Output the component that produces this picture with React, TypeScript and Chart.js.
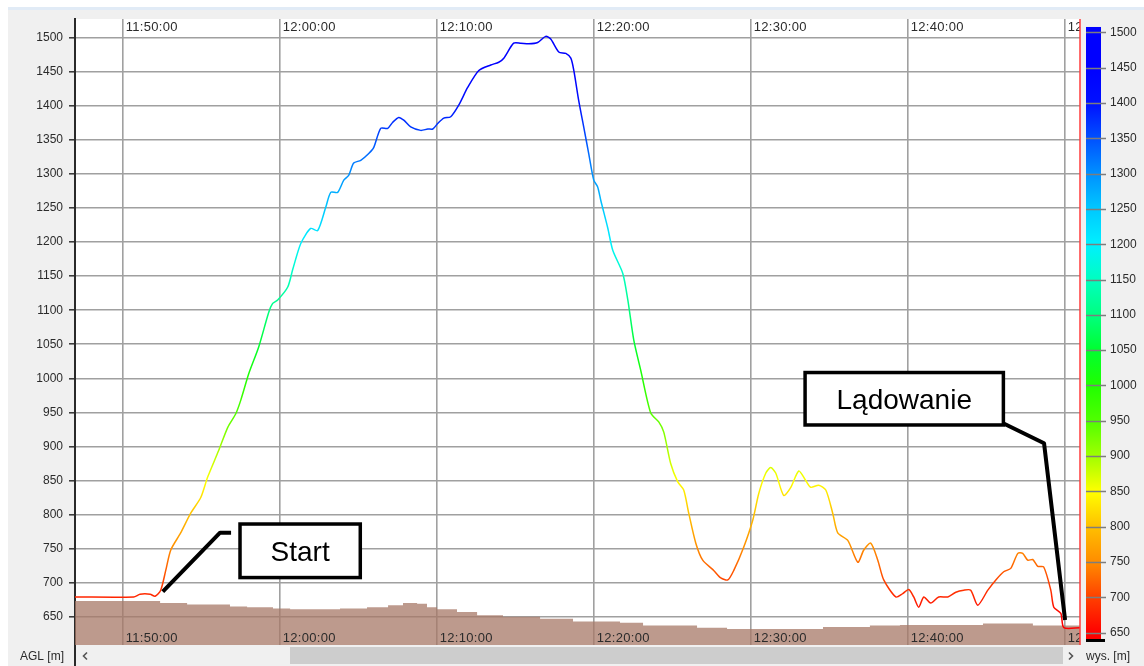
import React, { useEffect, useRef } from "react";
import { Chart, registerables } from "chart.js";

Chart.register(...registerables);

// Time values are minutes after 11:50:00
const flightMinutes = [
  -3.04, 0.7, 1.1, 1.75, 2.06, 2.42, 2.74, 3.06, 3.69, 4.33,
  4.97, 5.41, 6.11, 6.69, 7.2, 7.52, 8.03, 8.66, 9.3, 9.55,
  9.87, 10.51, 10.83, 11.34, 11.97, 12.42, 12.93, 13.25, 13.69, 14.08,
  14.39, 14.71, 15.16, 15.67, 15.99, 16.43, 16.88, 17.2, 17.58, 17.9,
  18.34, 18.98, 19.43, 19.75, 20.06, 20.45, 20.89, 21.4, 21.97, 22.68,
  23.44, 23.95, 24.27, 24.9, 25.35, 25.86, 26.43, 26.94, 27.26, 27.77,
  28.22, 28.54, 28.73, 29.04, 29.36, 29.68, 30.0, 30.25, 30.45, 30.9,
  31.21, 31.85, 32.17, 32.55, 32.99, 33.63, 34.14, 34.46, 34.9, 35.35,
  35.73, 36.05, 36.5, 36.94, 37.64, 38.09, 38.54, 38.92, 39.55, 40.13,
  40.51, 40.96, 41.27, 41.59, 42.1, 42.55, 43.06, 43.5, 43.82, 44.33,
  44.78, 45.22, 45.54, 46.18, 46.82, 47.2, 47.64, 48.09, 48.47, 49.24,
  49.68, 50.06, 50.38, 50.7, 51.02, 51.46, 51.97, 52.55, 53.06, 53.57,
  54.01, 54.46, 55.1, 55.61, 56.11, 56.56, 57.01, 57.32, 57.64, 57.96,
  58.28, 58.66, 59.11, 59.3, 59.75, 59.94, 60.97,
];
const flightAltitude = [
  679, 679, 683, 683, 680, 689, 718, 748, 773, 802,
  825, 855, 894, 928, 948, 968, 1007, 1046, 1097, 1110,
  1115, 1134, 1160, 1198, 1220, 1217, 1251, 1273, 1273, 1291,
  1298, 1316, 1320, 1330, 1339, 1367, 1367, 1376, 1383, 1379,
  1369, 1364, 1366, 1366, 1374, 1382, 1384, 1401, 1427, 1452,
  1460, 1464, 1470, 1492, 1492, 1491, 1493, 1502, 1498, 1479,
  1477, 1470, 1452, 1408, 1369, 1330, 1291, 1281, 1261, 1220,
  1188, 1154, 1115, 1056, 1012, 949, 936, 921, 875, 848,
  836, 802, 758, 733, 718, 707, 704, 718, 752, 792,
  831, 861, 869, 861, 828, 840, 864, 850, 840, 843,
  836, 802, 773, 762, 730, 748, 758, 733, 704, 679,
  684, 690, 679, 664, 679, 670, 679, 679, 686, 689,
  689, 667, 689, 704, 716, 721, 743, 743, 733, 734,
  724, 723, 689, 664, 655, 634, 634,
];

const terrainMinutes = [
  -3.04, 2.38, 4.1, 6.83, 7.92, 9.57, 10.66, 13.84, 15.56, 16.9,
  17.85, 18.75, 19.38, 20.02, 21.29, 22.57, 24.22, 26.58, 28.68, 31.67,
  33.14, 36.58, 38.49, 44.6, 47.59, 49.5, 54.79, 57.97, 60.97,
];
const terrainAltitude = [
  673, 670, 668, 665, 664, 662, 661, 662, 664, 667,
  670, 669, 664, 661, 657, 652, 650, 647, 643, 641,
  637, 634, 632, 635, 637, 638, 640, 637, 637,
];

const timeTickMinutes = [0, 10, 20, 30, 40, 50, 60];
const timeTickLabels = ["11:50:00", "12:00:00", "12:10:00", "12:20:00", "12:30:00", "12:40:00", "12:50:00"];
const altitudeTicks = [650, 700, 750, 800, 850, 900, 950, 1000, 1050, 1100, 1150, 1200, 1250, 1300, 1350, 1400, 1450, 1500];

const colorScaleValues = [650, 700, 750, 800, 850, 900, 950, 1000, 1050, 1100, 1150, 1200, 1250, 1300, 1350, 1400, 1450, 1500];
const colorScaleColors = [
  "#ff0000", "#ff4000", "#ff8c00", "#ffc000", "#ffff00", "#a0ff00", "#50ff00", "#20ff00", "#00ff30",
  "#00ff80", "#00ffc0", "#00f0ff", "#00c8ff", "#0090ff", "#0050ff", "#0010ff", "#0000ff", "#0000ff",
];

const leftAxisTitle = "AGL [m]";
const rightAxisTitle = "wys. [m]";
const startLabel = "Start";
const landingLabel = "Lądowanie";
// annotation boxes in data coords: [minLeft, minRight, altTop, altBottom]
const startBox = [7.47, 15.13, 786.1, 707.5];
const startLeader = [[2.55, 686.8], [6.2, 773.4], [6.9, 773.4]];
const landingBox = [43.46, 56.09, 1008.5, 931.5];
const landingLeader = [[55.88, 936.3], [58.68, 904.6], [60.02, 645.2]];

const W = 1144;
const H = 666;
const FONT = '"Liberation Sans", Arial, sans-serif';
const TEXT = "#2b2b2b";

function altitudeGradient(ctx: CanvasRenderingContext2D, scale: any) {
  const lo = colorScaleValues[0];
  const hi = colorScaleValues[colorScaleValues.length - 1];
  const g = ctx.createLinearGradient(0, scale.getPixelForValue(lo), 0, scale.getPixelForValue(hi));
  colorScaleValues.forEach((v, i) => g.addColorStop((v - lo) / (hi - lo), colorScaleColors[i]));
  return g;
}

const decorPlugin = {
  id: "decor",
  beforeDraw(chart: any) {
    const { ctx, chartArea: a } = chart;
    ctx.save();
    ctx.fillStyle = "#ffffff";
    ctx.fillRect(0, 0, W, H);
    ctx.fillStyle = "#e1ebf6";
    ctx.fillRect(8, 7, W - 8, 3);
    ctx.fillStyle = "#f0f0f0";
    ctx.fillRect(8, 10, W - 8, H - 10);
    ctx.fillStyle = "#ffffff";
    ctx.fillRect(a.left, a.top, a.right - a.left, a.bottom - a.top);
    ctx.restore();
  },
  afterDraw(chart: any) {
    const { ctx, chartArea: a } = chart;
    const x = chart.scales.x;
    const y = chart.scales.y;
    const y2 = chart.scales.y2;

    // time labels inside plot (top and bottom), clipped to plot area
    ctx.save();
    ctx.beginPath();
    ctx.rect(a.left, a.top, a.right - a.left, a.bottom - a.top);
    ctx.clip();
    ctx.font = "13px " + FONT;
    (ctx as any).letterSpacing = "0.3px";
    ctx.fillStyle = TEXT;
    ctx.textAlign = "left";
    ctx.textBaseline = "middle";
    timeTickMinutes.forEach((m, i) => {
      const px = x.getPixelForValue(m);
      ctx.fillText(timeTickLabels[i], px + 3, a.top + 8.5);
      ctx.fillText(timeTickLabels[i], px + 3, a.bottom - 6.5);
    });
    ctx.restore();

    // red cursor line at the right edge
    ctx.save();
    ctx.strokeStyle = "#ff3b3b";
    ctx.lineWidth = 1.5;
    ctx.beginPath();
    ctx.moveTo(a.right, a.top);
    ctx.lineTo(a.right, a.bottom);
    ctx.stroke();
    ctx.restore();

    // annotations
    const drawBox = (box: number[], text: string) => {
      const l = x.getPixelForValue(box[0]);
      const r = x.getPixelForValue(box[1]);
      const t = y.getPixelForValue(box[2]);
      const b = y.getPixelForValue(box[3]);
      ctx.save();
      ctx.fillStyle = "#ffffff";
      ctx.fillRect(l, t, r - l, b - t);
      ctx.lineWidth = 3.5;
      ctx.strokeStyle = "#000000";
      ctx.strokeRect(l, t, r - l, b - t);
      ctx.font = "28px " + FONT;
      ctx.textAlign = "center";
      ctx.textBaseline = "alphabetic";
      ctx.fillStyle = "#000000";
      ctx.fillText(text, (l + r) / 2, (t + b) / 2 + 10);
      ctx.restore();
    };
    const drawLeader = (pts: number[][]) => {
      ctx.save();
      ctx.strokeStyle = "#000000";
      ctx.lineWidth = 4;
      ctx.lineJoin = "round";
      ctx.beginPath();
      pts.forEach((p, i) => {
        const px = x.getPixelForValue(p[0]);
        const py = y.getPixelForValue(p[1]);
        if (i === 0) ctx.moveTo(px, py);
        else ctx.lineTo(px, py);
      });
      ctx.stroke();
      ctx.restore();
    };
    drawLeader(startLeader);
    drawBox(startBox, startLabel);
    drawLeader(landingLeader);
    drawBox(landingBox, landingLabel);

    // colour bar
    ctx.save();
    const barL = a.right + 6;
    const barTop = y2.getPixelForValue(1507.5);
    const barBottom = y2.getPixelForValue(639.7);
    ctx.fillStyle = altitudeGradient(ctx, y2);
    ctx.fillRect(barL, barTop, 15, barBottom - barTop);
    ctx.strokeStyle = "#7d7d7d";
    ctx.lineWidth = 1.5;
    altitudeTicks.forEach((v) => {
      const py = Math.round(y2.getPixelForValue(v)) + 0.5;
      ctx.beginPath();
      ctx.moveTo(barL, py);
      ctx.lineTo(barL + 20, py);
      ctx.stroke();
    });
    ctx.fillStyle = "#000000";
    ctx.fillRect(barL, barBottom - 1, 19, 3);
    ctx.restore();

    // bottom scroll bar strip
    ctx.save();
    ctx.fillStyle = "#cdcdcd";
    ctx.fillRect(290, 647, 773, 17);
    ctx.strokeStyle = "#555555";
    ctx.lineWidth = 1.6;
    ctx.beginPath();
    ctx.moveTo(87, 652.5);
    ctx.lineTo(83.5, 656);
    ctx.lineTo(87, 659.5);
    ctx.stroke();
    ctx.beginPath();
    ctx.moveTo(1069, 652.5);
    ctx.lineTo(1072.5, 656);
    ctx.lineTo(1069, 659.5);
    ctx.stroke();
    ctx.font = "12px " + FONT;
    ctx.fillStyle = TEXT;
    ctx.textBaseline = "middle";
    ctx.textAlign = "right";
    ctx.fillText(leftAxisTitle, 64, 656.5);
    ctx.textAlign = "left";
    ctx.fillText(rightAxisTitle, 1086, 656.5);
    ctx.fillStyle = "#2a2a2a";
    ctx.fillRect(a.left - 1, a.bottom, 2, H - a.bottom);
    ctx.restore();
  },
};

export default function App() {
  const ref = useRef<HTMLCanvasElement>(null);
  useEffect(() => {
    const canvas = ref.current as HTMLCanvasElement;
    const chart = new Chart(canvas, {
      type: "line",
      data: {
        datasets: [
          {
            label: "wysokość",
            data: flightMinutes.map((m, i) => ({ x: m, y: flightAltitude[i] })),
            borderColor: (c: any) => {
              const ch = c.chart;
              if (!ch.chartArea || !ch.scales.y) return "#ff0000";
              return altitudeGradient(ch.ctx, ch.scales.y);
            },
            borderWidth: 1.5,
            pointRadius: 0,
            tension: 0.25,
            fill: false,
            yAxisID: "y",
          },
          {
            label: "teren",
            data: terrainMinutes.map((m, i) => ({ x: m, y: terrainAltitude[i] })),
            stepped: true,
            borderWidth: 0,
            borderColor: "rgba(0,0,0,0)",
            backgroundColor: "rgba(167,120,103,0.75)",
            fill: "start",
            pointRadius: 0,
            yAxisID: "y",
          },
        ],
      } as any,
      options: {
        animation: false,
        responsive: false,
        devicePixelRatio: 1,
        events: [],
        layout: { padding: { top: 19, bottom: 21, left: 0, right: 0 } },
        plugins: { legend: { display: false }, tooltip: { enabled: false } },
        scales: {
          x: {
            type: "linear",
            position: "bottom",
            min: -3.04,
            max: 60.97,
            afterFit: (s: any) => { s.height = 0; },
            afterBuildTicks: (s: any) => { s.ticks = timeTickMinutes.map((v) => ({ value: v })); },
            ticks: { display: false, padding: 0 },
            grid: { color: "#a0a0a0", lineWidth: 1.6, drawTicks: false },
            border: { display: false },
          },
          y: {
            type: "linear",
            position: "left",
            min: 608.5,
            max: 1527.5,
            afterFit: (s: any) => { s.width = 75; },
            afterBuildTicks: (s: any) => { s.ticks = altitudeTicks.map((v) => ({ value: v })); },
            ticks: { color: TEXT, padding: 6, font: { family: FONT, size: 12 }, callback: (v: any) => String(v) },
            grid: { color: "#a0a0a0", lineWidth: 1.6, tickColor: "#333333", tickLength: 6, tickWidth: 1.5 },
            border: { display: true, color: "#2a2a2a", width: 2 },
          },
          y2: {
            type: "linear",
            position: "right",
            min: 632.6,
            max: 1518.8,
            afterFit: (s: any) => { s.width = 64; },
            afterBuildTicks: (s: any) => { s.ticks = altitudeTicks.map((v) => ({ value: v })); },
            ticks: { color: TEXT, padding: 4, font: { family: FONT, size: 12 }, callback: (v: any) => String(v) },
            grid: { display: false, drawTicks: true, tickLength: 26 },
            border: { display: false },
          },
        },
      } as any,
      plugins: [decorPlugin],
    });
    return () => chart.destroy();
  }, []);
  return (
    <div style={{ position: "fixed", left: 0, top: 0, width: W, height: H }}>
      <canvas ref={ref} width={W} height={H} style={{ display: "block", width: W, height: H }} />
    </div>
  );
}
